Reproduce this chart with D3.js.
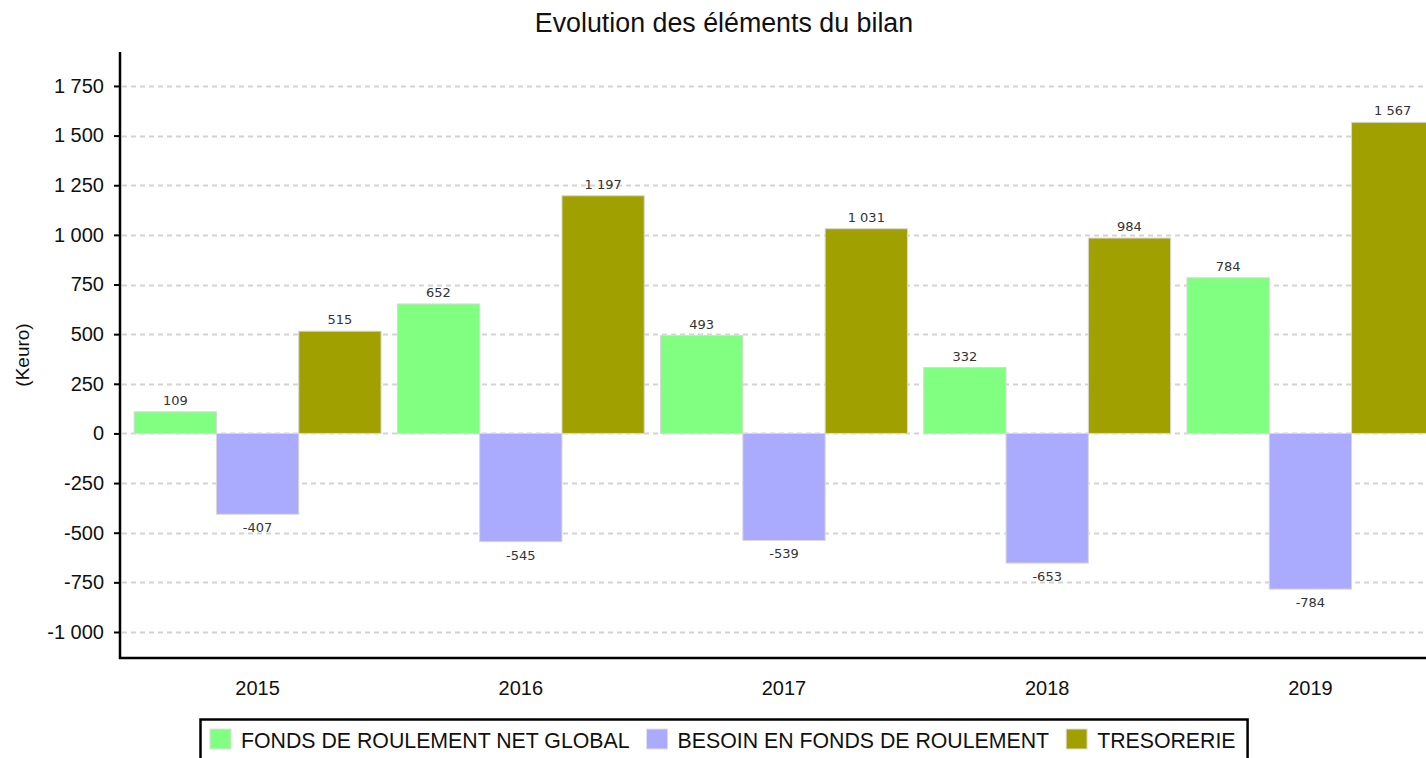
<!DOCTYPE html>
<html>
<head>
<meta charset="utf-8">
<script src="https://cdn.jsdelivr.net/npm/d3@7"></script>
<style>
  body { margin: 0; background: #fff; overflow: hidden; }
  svg { display: block; font-family: "Liberation Sans", Arial, sans-serif; }
</style>
</head>
<body>
<div id="chart"></div>
<script>
const years = ["2015", "2016", "2017", "2018", "2019"];
const seriesNames = ["FONDS DE ROULEMENT NET GLOBAL", "BESOIN EN FONDS DE ROULEMENT", "TRESORERIE"];
const fondsRoulement = [109, 652, 493, 332, 784];
const besoinFonds = [-407, -545, -539, -653, -784];
const tresorerie = [515, 1197, 1031, 984, 1567];
const seriesColors = ["#80ff80", "#aaaaff", "#a0a000"];
const yTicks = [-1000, -750, -500, -250, 0, 250, 500, 750, 1000, 1250, 1500, 1750];

const width = 1426, height = 758;
const plot = { left: 120, top: 52, bottom: 658, right: 1442 };

const locale = d3.formatLocale({ decimal: ",", thousands: " ", grouping: [3], currency: ["", " €"], minus: "-" });
const fmt = locale.format(",d");

const seriesValues = [fondsRoulement, besoinFonds, tresorerie];
const data = years.map((year, i) => ({
  year,
  values: seriesNames.map((name, k) => ({ name, k, value: seriesValues[k][i] }))
}));

const svg = d3.select("#chart").append("svg")
  .attr("width", width)
  .attr("height", height);

// title
svg.append("text")
  .attr("x", 724)
  .attr("y", 32)
  .attr("text-anchor", "middle")
  .style("font-size", "26.8px")
  .style("fill", "#111")
  .text("Evolution des éléments du bilan");

const x0 = d3.scaleBand()
  .domain(years)
  .range([126, plot.right])
  .paddingInner(0.062)
  .paddingOuter(0.031);

const x1 = d3.scaleBand()
  .domain(d3.range(seriesNames.length))
  .range([0, x0.bandwidth()]);

const y = d3.scaleLinear()
  .domain([-1131, 1921])
  .range([plot.bottom, plot.top]);

// grid
svg.append("g")
  .selectAll("line")
  .data(yTicks)
  .join("line")
  .attr("x1", plot.left + 2)
  .attr("x2", width)
  .attr("y1", d => Math.round(y(d)) + 0.5)
  .attr("y2", d => Math.round(y(d)) + 0.5)
  .attr("stroke", "#d4d4d4")
  .attr("stroke-width", 2)
  .attr("stroke-dasharray", "5,4");

// bars
const groups = svg.append("g")
  .selectAll("g")
  .data(data)
  .join("g")
  .attr("transform", d => `translate(${x0(d.year)},0)`);

groups.selectAll("rect")
  .data(d => d.values)
  .join("rect")
  .attr("x", d => x1(d.k))
  .attr("y", d => y(Math.max(0, d.value)))
  .attr("width", x1.bandwidth())
  .attr("height", d => Math.abs(y(d.value) - y(0)))
  .attr("fill", d => seriesColors[d.k])
  .attr("stroke", "#d8d8d8")
  .attr("stroke-width", 1);

groups.selectAll("text")
  .data(d => d.values)
  .join("text")
  .attr("x", d => x1(d.k) + x1.bandwidth() / 2)
  .attr("y", d => d.value >= 0 ? y(d.value) - 7 : y(d.value) + 18)
  .attr("text-anchor", "middle")
  .style("font-family", "'DejaVu Sans', sans-serif")
  .style("font-size", "13px")
  .style("fill", "#333")
  .text(d => fmt(d.value));

// y axis
const yAxis = svg.append("g")
  .attr("transform", `translate(${plot.left},0)`)
  .call(d3.axisLeft(y).tickValues(yTicks).tickFormat(fmt).tickSize(6).tickPadding(10));
yAxis.select(".domain").remove();
yAxis.selectAll(".tick line").attr("stroke", "#000").attr("stroke-width", 2);
yAxis.selectAll(".tick text")
  .style("font-family", "'Liberation Sans', Arial, sans-serif")
  .style("font-size", "20px")
  .style("fill", "#111");
svg.append("line")
  .attr("x1", plot.left).attr("x2", plot.left)
  .attr("y1", plot.top).attr("y2", plot.bottom + 1)
  .attr("stroke", "#000").attr("stroke-width", 2.5);

// x axis
const xAxis = svg.append("g")
  .attr("transform", `translate(0,${plot.bottom})`)
  .call(d3.axisBottom(x0).tickSize(0).tickPadding(23));
xAxis.select(".domain").remove();
xAxis.selectAll(".tick text")
  .style("font-family", "'Liberation Sans', Arial, sans-serif")
  .style("font-size", "20px")
  .style("fill", "#111");
svg.append("line")
  .attr("x1", plot.left - 1).attr("x2", width)
  .attr("y1", plot.bottom).attr("y2", plot.bottom)
  .attr("stroke", "#000").attr("stroke-width", 2.5);

// y axis title
svg.append("text")
  .attr("transform", "translate(29,355) rotate(-90)")
  .attr("text-anchor", "middle")
  .style("font-size", "19px")
  .style("fill", "#111")
  .text("(Keuro)");

// legend
const legend = svg.append("g");
const legendBox = legend.append("rect")
  .attr("x", 200.5)
  .attr("y", 719.5)
  .attr("height", 60)
  .attr("fill", "#fff")
  .attr("stroke", "#000")
  .attr("stroke-width", 2.5);

let lx = 210;
seriesNames.forEach((name, k) => {
  legend.append("rect")
    .attr("x", lx)
    .attr("y", 729)
    .attr("width", 21)
    .attr("height", 20)
    .attr("fill", seriesColors[k])
    .attr("stroke", "#e0e0e0")
    .attr("stroke-width", 1);
  const t = legend.append("text")
    .attr("x", lx + 31)
    .attr("y", 748)
    .style("font-size", "21.3px")
    .style("fill", "#111")
    .text(name);
  lx += 31 + t.node().getComputedTextLength() + 17;
});
legendBox.attr("width", lx - 5 - 200.5);
</script>
</body>
</html>
